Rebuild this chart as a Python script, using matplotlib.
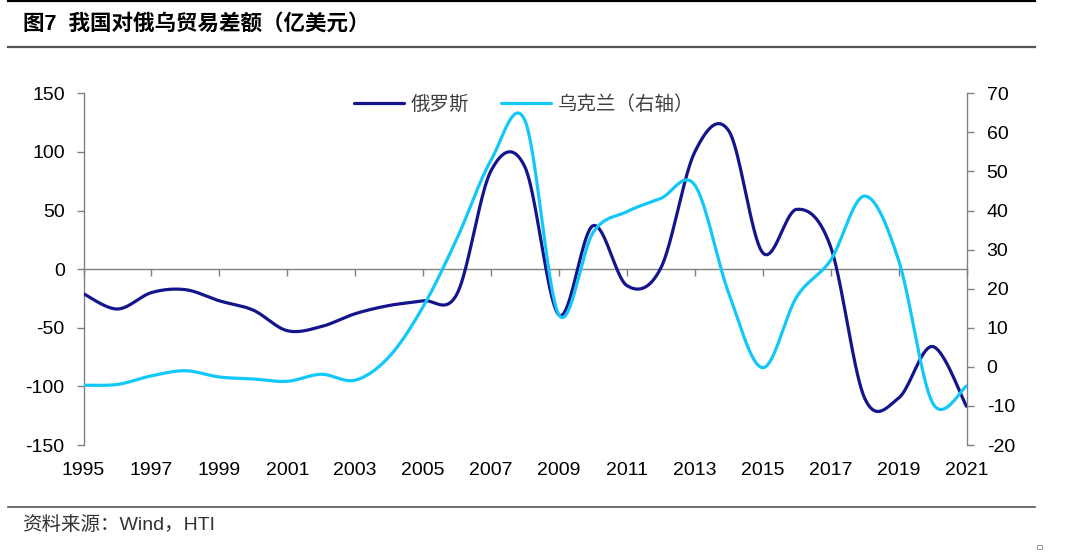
import numpy as np
import matplotlib
matplotlib.use("Agg")
import matplotlib.pyplot as plt
from matplotlib.lines import Line2D
from matplotlib.patches import Rectangle

# ---------------- data ----------------
years = list(range(1995, 2022))
russia = [-21, -34, -20, -17.5, -27, -35, -52.5, -49, -38, -31, -27, -21,
          84, 87, -39, 37, -14, 1, 100, 118, 14, 51, 19, -110, -110, -66, -117]
ukraine = [-4.7, -4.5, -2.3, -1.0, -2.6, -3.1, -3.7, -1.9, -3.4, 2.6, 15.4, 32.9,
           52.9, 63, 13.3, 34.3, 39.7, 43.1, 46.5, 18.8, -0.2, 17.9, 27.3, 43.7,
           27.3, -9.2, -4.9]
xtick_labels = [str(y) for y in years[::2]]
left_ticks = [-150, -100, -50, 0, 50, 100, 150]
right_ticks = [-20, -10, 0, 10, 20, 30, 40, 50, 60, 70]

title = "图7  我国对俄乌贸易差额（亿美元）"
source = "资料来源：Wind，HTI"
label_ru = "俄罗斯"
label_ua = "乌克兰（右轴）"

C_RU = "#14148c"
C_UA = "#12c8f8"
GREY = "#808080"

FONTS = ["Liberation Sans", "Noto Sans CJK SC", "DejaVu Sans"]
plt.rcParams["font.family"] = FONTS


def smooth(x, y, n=40):
    """Excel-like smoothed line: cubic Bezier with Catmull-Rom control points."""
    x = np.asarray(x, float)
    y = np.asarray(y, float)
    P = np.column_stack([x, y])
    N = len(P)
    out = []
    t = np.linspace(0, 1, n)[:, None]
    for i in range(N - 1):
        p0, p3 = P[i], P[i + 1]
        pm = P[i - 1] if i > 0 else p0
        pn = P[i + 2] if i + 2 < N else p3
        c1 = p0 + (p3 - pm) / 6.0
        c2 = p3 - (pn - p0) / 6.0
        seg = ((1 - t) ** 3) * p0 + 3 * ((1 - t) ** 2) * t * c1 + 3 * (1 - t) * t ** 2 * c2 + t ** 3 * p3
        out.append(seg if i == 0 else seg[1:])
    out = np.vstack(out)
    return out[:, 0], out[:, 1]


W, H = 1080, 555
fig = plt.figure(figsize=(W / 100, H / 100), dpi=100)
fig.patch.set_facecolor("white")

x0, x1 = 83.5, 966.5
ytop, ybot = 93.3, 445.0
ax = fig.add_axes([x0 / W, 1 - ybot / H, (x1 - x0) / W, (ybot - ytop) / H])
ax2 = ax.twinx()

# lines
sx, sy = smooth(years, russia)
l1, = ax.plot(sx, sy, color=C_RU, lw=2.3, solid_capstyle="round", zorder=3)
ux, uy = smooth(years, ukraine)
l2, = ax2.plot(ux, uy, color=C_UA, lw=2.3, solid_capstyle="round", zorder=3)

ax.set_xlim(1995, 2021)
ax.set_ylim(-150, 150)
ax2.set_ylim(-20, 70)

# spines
ax.spines["top"].set_visible(False)
ax.spines["right"].set_visible(False)
ax.spines["bottom"].set_position(("data", 0))
ax.spines["bottom"].set_color(GREY)
ax.spines["left"].set_color(GREY)
ax.spines["bottom"].set_linewidth(1.0)
ax.spines["left"].set_linewidth(1.0)
for s in ["top", "bottom", "left"]:
    ax2.spines[s].set_visible(False)
ax2.spines["right"].set_color(GREY)
ax2.spines["right"].set_linewidth(1.0)

# ticks
ax.set_xticks(years[::2])
ax.set_xticklabels([])
ax.tick_params(axis="x", direction="out", length=5, color=GREY, width=1.0)
ax.set_yticks(left_ticks)
ax.set_yticklabels([str(v) for v in left_ticks])
ax.tick_params(axis="y", direction="out", length=5, color=GREY, width=1.0,
               pad=8.5, labelsize=14, labelcolor="black")
ax2.set_yticks(right_ticks)
ax2.set_yticklabels([str(v) for v in right_ticks])
ax2.tick_params(axis="y", direction="out", length=5, color=GREY, width=1.0,
                pad=9.5, labelsize=14, labelcolor="black")

sec = ax.secondary_xaxis("bottom")
sec.set_xticks(years[::2])
sec.set_xticklabels(xtick_labels)
sec.tick_params(length=0, pad=12.5, labelsize=14, labelcolor="black")
sec.spines["bottom"].set_visible(False)

for lab in ax.get_yticklabels() + ax2.get_yticklabels() + sec.get_xticklabels():
    lab.set_fontfamily(FONTS)

# legend
leg = fig.legend([l1, l2], [label_ru, label_ua], loc="center",
                 bbox_to_anchor=(524 / W, 1 - 104 / H), bbox_transform=fig.transFigure,
                 ncol=2, frameon=False, handlelength=2.6, handletextpad=0.35,
                 columnspacing=1.6, borderpad=0,
                 prop={"family": ["Noto Sans CJK SC", "DejaVu Sans"], "size": 14})
for t in leg.get_texts():
    t.set_color("#404040")

# title, rules, source
fig.text(23 / W, 1 - 24 / H, title, fontsize=15.5, fontweight="bold", va="center",
         ha="left", color="black", family=FONTS)
fig.add_artist(Line2D([8 / W, 1035 / W], [1 - 1 / H, 1 - 1 / H], color="black", lw=1.6))
fig.add_artist(Line2D([8 / W, 1035 / W], [1 - 47 / H, 1 - 47 / H], color="#555555", lw=1.6))
fig.add_artist(Line2D([8 / W, 1035 / W], [1 - 507 / H, 1 - 507 / H], color="#555555", lw=1.2))
fig.text(22 / W, 1 - 525 / H, source, fontsize=14, va="center", ha="left",
         color="#333333", family=FONTS)
fig.add_artist(Rectangle((1037 / W, 1 - 549 / H), 4.5 / W, 4.5 / H,
                         transform=fig.transFigure, fill=False, ec="#999999", lw=0.7))

fig.savefig("out.png", dpi=100, facecolor="white")
